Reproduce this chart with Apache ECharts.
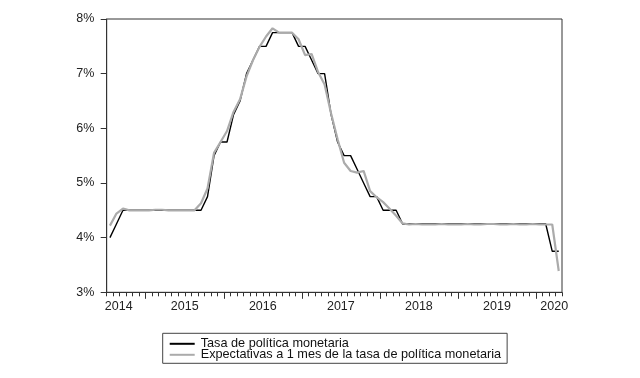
<!DOCTYPE html>
<html>
<head>
<meta charset="utf-8">
<script src="https://cdn.jsdelivr.net/npm/echarts@6/dist/echarts.min.js"></script>
<style>
  html, body { margin: 0; padding: 0; background: #ffffff; }
  #chart { width: 640px; height: 378px; }
</style>
</head>
<body>
<div id="chart"></div>
<script>
// Monthly observations, July 2014 to April 2020 (70 months)
const firstYear = 2014;
const firstMonth = 7;
const seriesNames = ['Tasa de política monetaria', 'Expectativas a 1 mes de la tasa de política monetaria'];
const yearLabels = ['2014', '2015', '2016', '2017', '2018', '2019', '2020'];
const yTicks = [3, 4, 5, 6, 7, 8];

const tasaPolitica = [
  4.00, 4.25, 4.50, 4.50, 4.50, 4.50,
  4.50, 4.50, 4.50, 4.50, 4.50, 4.50, 4.50, 4.50, 4.50, 4.75, 5.50, 5.75,
  5.75, 6.25, 6.50, 7.00, 7.25, 7.50, 7.50, 7.75, 7.75, 7.75, 7.75, 7.50,
  7.50, 7.25, 7.00, 7.00, 6.25, 5.75, 5.50, 5.50, 5.25, 5.00, 4.75, 4.75,
  4.50, 4.50, 4.50, 4.25, 4.25, 4.25, 4.25, 4.25, 4.25, 4.25, 4.25, 4.25,
  4.25, 4.25, 4.25, 4.25, 4.25, 4.25, 4.25, 4.25, 4.25, 4.25, 4.25, 4.25,
  4.25, 4.25, 3.75, 3.75
];

const expectativas = [
  4.22, 4.44, 4.53, 4.50, 4.50, 4.50,
  4.50, 4.51, 4.51, 4.50, 4.50, 4.50, 4.50, 4.50, 4.63, 4.90, 5.55, 5.75,
  5.95, 6.30, 6.53, 6.95, 7.25, 7.49, 7.68, 7.83, 7.75, 7.75, 7.75, 7.63,
  7.34, 7.36, 7.03, 6.80, 6.27, 5.80, 5.37, 5.22, 5.19, 5.22, 4.85, 4.74,
  4.65, 4.53, 4.40, 4.26, 4.24, 4.25, 4.24, 4.24, 4.24, 4.25, 4.24, 4.24,
  4.24, 4.25, 4.24, 4.24, 4.25, 4.25, 4.24, 4.24, 4.25, 4.24, 4.24, 4.25,
  4.24, 4.24, 4.24, 3.39
];

const nObs = tasaPolitica.length;
// x value = month index centre (month i spans [i, i+1])
const toPairs = arr => arr.map((v, i) => [i + 0.5, v]);

// month boundaries for minor ticks, year boundaries for major ticks
const monthBounds = [];
for (let i = 0; i <= nObs; i++) monthBounds.push(i);
const yearBounds = [];
for (let i = 0; i <= nObs; i++) {
  if ((firstMonth - 1 + i) % 12 === 0) yearBounds.push(i);
}
// label positions (centre of each year's span; edge years nudged as in the original)
const labelPos = yearLabels.map((y, k) => {
  const yr = Number(y);
  let s = (yr - firstYear) * 12 - (firstMonth - 1);
  let e = s + 12;
  s = Math.max(0, s); e = Math.min(nObs, e);
  let m = (s + e) / 2;
  if (k === 0) m = s + 1.85;
  if (k === yearLabels.length - 1) m = s + 2.8;
  return m;
});
const labelMap = {};
labelPos.forEach((p, k) => { labelMap[p.toFixed(3)] = yearLabels[k]; });

const font = 'Liberation Sans, Arial, sans-serif';
const axisColor = '#333333';

const chart = echarts.init(document.getElementById('chart'), null, { renderer: 'canvas' });
chart.setOption({
  backgroundColor: '#ffffff',
  animation: false,
  grid: {
    left: 106.7, right: 78, top: 19, bottom: 85.7,
    show: true, borderColor: axisColor, borderWidth: 1, backgroundColor: 'transparent'
  },
  xAxis: [
    {
      type: 'value', min: 0, max: nObs, position: 'bottom',
      axisLine: { show: true, lineStyle: { color: axisColor, width: 1 } },
      axisTick: { show: true, customValues: monthBounds, length: 4, inside: false, lineStyle: { color: axisColor } },
      axisLabel: {
        show: true, customValues: labelPos, margin: 8,
        fontFamily: font, fontSize: 12.5, color: '#222222',
        formatter: v => labelMap[Number(v).toFixed(3)] || ''
      },
      splitLine: { show: false }
    },
    {
      type: 'value', min: 0, max: nObs, position: 'bottom',
      axisLine: { show: false },
      axisTick: { show: true, customValues: yearBounds, length: 6.5, lineStyle: { color: axisColor } },
      axisLabel: { show: false },
      splitLine: { show: false }
    }
  ],
  yAxis: {
    type: 'value', min: yTicks[0], max: yTicks[yTicks.length - 1], interval: 1,
    axisLine: { show: true, lineStyle: { color: axisColor, width: 1 } },
    axisTick: { show: true, length: 6, lineStyle: { color: axisColor } },
    axisLabel: { margin: 12.4, fontFamily: font, fontSize: 12.5, color: '#222222', formatter: '{value}%' },
    splitLine: { show: false }
  },
  legend: {
    orient: 'vertical',
    left: 162.7, top: 333.3,
    padding: [4, 6, 2, 7],
    itemGap: -2,
    itemWidth: 25, itemHeight: 2,
    borderColor: '#444444', borderWidth: 1,
    backgroundColor: '#ffffff',
    textStyle: { fontFamily: font, fontSize: 12.7, color: '#111111', lineHeight: 11, padding: [0, 0, 0, 1] },
    data: [
      { name: seriesNames[0], icon: 'rect' },
      { name: seriesNames[1], icon: 'rect' }
    ]
  },
  series: [
    {
      name: seriesNames[0], type: 'line', xAxisIndex: 0,
      data: toPairs(tasaPolitica), symbol: 'none', showSymbol: false,
      lineStyle: { color: '#000000', width: 1.4 },
      itemStyle: { color: '#000000' },
      z: 2
    },
    {
      name: seriesNames[1], type: 'line', xAxisIndex: 0,
      data: toPairs(expectativas), symbol: 'none', showSymbol: false,
      lineStyle: { color: '#ababab', width: 2.2 },
      itemStyle: { color: '#ababab' },
      z: 3
    }
  ]
});
</script>
</body>
</html>
